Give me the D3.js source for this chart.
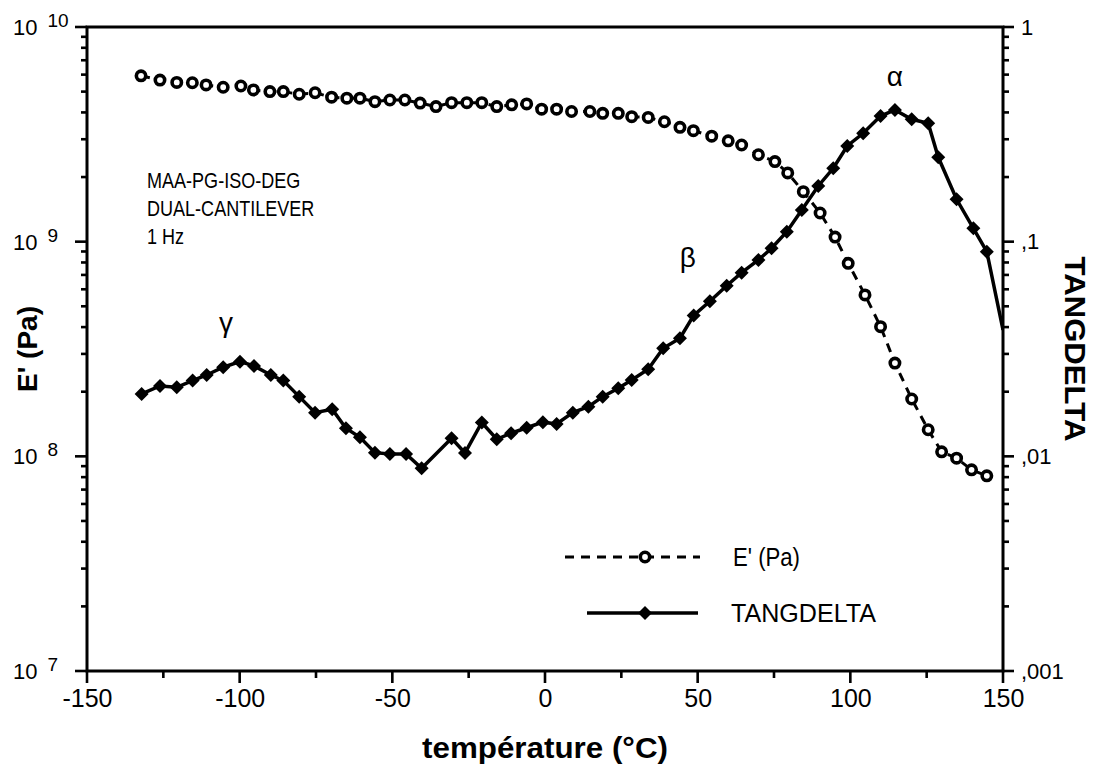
<!DOCTYPE html>
<html>
<head>
<meta charset="utf-8">
<script src="https://cdn.jsdelivr.net/npm/d3@7"></script>
<style>
  html, body { margin: 0; padding: 0; background: #fff; }
  svg { display: block; }
  text { font-family: "Liberation Sans", Arial, sans-serif; fill: #000; }
</style>
</head>
<body>
<svg id="chart" width="1096" height="767"></svg>
<script>
// ---- data ----
const eTemps = [-132.3,-126.1,-120.6,-115.5,-111.0,-105.4,-99.6,-95.5,-90.1,-85.7,-80.5,-75.3,-69.9,-64.9,-60.6,-55.7,-50.8,-45.9,-40.9,-35.7,-30.6,-25.6,-20.7,-15.8,-10.9,-6.0,-1.1,3.8,8.7,14.7,18.9,24.0,28.4,33.8,39.1,44.2,48.6,54.6,60.0,64.4,69.9,75.3,79.5,84.6,90.1,95.0,99.3,104.8,109.9,114.6,120.1,125.5,129.9,134.8,139.7,144.7];
const eModulus = [5.92e9,5.66e9,5.52e9,5.50e9,5.37e9,5.24e9,5.31e9,5.09e9,5.00e9,5.00e9,4.86e9,4.94e9,4.71e9,4.66e9,4.66e9,4.49e9,4.57e9,4.57e9,4.42e9,4.26e9,4.44e9,4.44e9,4.44e9,4.26e9,4.34e9,4.38e9,4.14e9,4.14e9,4.04e9,4.04e9,3.96e9,3.96e9,3.82e9,3.79e9,3.62e9,3.41e9,3.29e9,3.10e9,2.95e9,2.82e9,2.54e9,2.36e9,2.09e9,1.71e9,1.36e9,1.05e9,7.93e8,5.65e8,4.02e8,2.72e8,1.85e8,1.33e8,1.05e8,9.8e7,8.65e7,8.11e7];

const tanTemps = [-132.1,-126.1,-120.6,-115.4,-110.8,-105.4,-99.9,-95.3,-89.8,-85.7,-80.5,-75.3,-69.7,-65.2,-60.6,-55.7,-50.8,-45.5,-40.4,-30.6,-26.2,-20.7,-15.8,-11.1,-6.0,-0.7,3.8,9.1,14.2,18.9,24.0,28.4,33.8,38.7,44.2,48.7,54.0,59.5,64.4,69.9,74.2,79.2,84.1,89.5,94.4,99.0,104.2,109.9,114.6,120.1,125.5,128.8,134.8,140.3,144.7,150.0];
const tanDelta = [0.01953,0.02127,0.02098,0.02253,0.02393,0.0260,0.02761,0.02637,0.02393,0.02253,0.01897,0.01598,0.01657,0.01351,0.01227,0.0104,0.01026,0.01026,0.0088,0.01214,0.01037,0.01438,0.01201,0.01281,0.01359,0.01443,0.01415,0.01598,0.01704,0.01897,0.02076,0.0227,0.02544,0.03188,0.03549,0.04533,0.05277,0.06232,0.07171,0.08219,0.09318,0.1113,0.1405,0.1817,0.2197,0.2791,0.3198,0.3849,0.4106,0.3716,0.3559,0.2472,0.1576,0.1154,0.0898,0.0388];

const xTicks = [-150,-100,-50,0,50,100,150];
const xMinorTicks = [-125,-75,-25,25,75,125];
const leftTicks = [1e7,1e8,1e9,1e10];
const leftTickExp = ["7","8","9","10"];
const rightTicks = [0.001,0.01,0.1,1];
const rightTickLabels = [",001",",01",",1","1"];

const annotation = ["MAA-PG-ISO-DEG","DUAL-CANTILEVER","1 Hz"];
const peakNames = ["γ","β","α"];
const peakTemps = [-104.5,46.8,114.6];
const peakTan = [0.038,0.0762,0.531];
const seriesNames = ["E' (Pa)", "TANGDELTA"];
const xTitle = "température (°C)";
const yLeftTitle = "E' (Pa)";
const yRightTitle = "TANGDELTA";

// ---- layout ----
const svg = d3.select("#chart");
const L = 87, R = 1003, T = 27, B = 671;

const x = d3.scaleLinear().domain([-150,150]).range([L,R]);
const yL = d3.scaleLog().domain([1e7,1e10]).range([B,T]);
const yR = d3.scaleLog().domain([0.001,1]).range([B,T]);

function minorLog(lo, hi) {
  const out = [];
  for (let d = lo; d < hi; d *= 10) for (let k = 2; k <= 9; k++) out.push(d*k);
  return out;
}

// axis labels through d3 axes
function clean(g) { g.select(".domain").remove(); g.selectAll(".tick line").remove(); }
const gx = svg.append("g").attr("transform",`translate(0,${B})`)
  .call(d3.axisBottom(x).tickValues(xTicks).tickSize(12).tickPadding(6).tickFormat(d=>d));
clean(gx);
gx.selectAll("text").attr("font-size",25).attr("fill","#000");

const gr = svg.append("g").attr("transform",`translate(${R},0)`)
  .call(d3.axisRight(yR).tickValues(rightTicks).tickSize(11).tickPadding(7).tickFormat((d,i)=>rightTickLabels[i]));
clean(gr);
gr.selectAll("text").attr("font-size",22).attr("fill","#000");

leftTicks.forEach((v,i)=>{
  const t = svg.append("text").attr("x",13).attr("y",yL(v)+8).attr("font-size",22);
  t.append("tspan").text("10");
  t.append("tspan").attr("dx",10).attr("dy",-8).attr("font-size",19).text(leftTickExp[i]);
});

// frame
svg.append("rect").attr("x",L).attr("y",T).attr("width",R-L).attr("height",B-T)
  .attr("fill","none").attr("stroke","#000").attr("stroke-width",3);

// clip
svg.append("clipPath").attr("id","plotclip").append("rect")
  .attr("x",L).attr("y",T).attr("width",R-L).attr("height",B-T);

const ePts = eTemps.map((t,i)=>({t, v:eModulus[i]}));
const tPts = tanTemps.map((t,i)=>({t, v:tanDelta[i]}));

const plot = svg.append("g").attr("clip-path","url(#plotclip)");

plot.append("path").datum(ePts)
  .attr("d", d3.line().x(d=>x(d.t)).y(d=>yL(d.v)))
  .attr("fill","none").attr("stroke","#000").attr("stroke-width",3).attr("stroke-dasharray","9,7");
plot.append("path").datum(tPts)
  .attr("d", d3.line().x(d=>x(d.t)).y(d=>yR(d.v)))
  .attr("fill","none").attr("stroke","#000").attr("stroke-width",3.5);

const diamond = s => `M0,${-s}L${s},0L0,${s}L${-s},0Z`;

plot.selectAll(".dm").data(tPts.filter(d=>d.t<150)).join("path")
  .attr("transform",d=>`translate(${x(d.t)},${yR(d.v)})`)
  .attr("d",diamond(7)).attr("fill","#000");
plot.selectAll(".cm").data(ePts).join("circle")
  .attr("cx",d=>x(d.t)).attr("cy",d=>yL(d.v)).attr("r",4.7)
  .attr("fill","#fff").attr("stroke","#000").attr("stroke-width",3.6);

// annotation (condensed)
const ann = svg.append("g").attr("transform","translate(147,0) scale(0.82,1)");
annotation.forEach((s,i)=>{
  ann.append("text").attr("x",0).attr("y",188+i*28).attr("font-size",22).text(s);
});
peakNames.forEach((n,i)=>{
  svg.append("text").attr("x",x(peakTemps[i])).attr("y",yR(peakTan[i])).attr("text-anchor","middle")
    .attr("font-family","'Liberation Serif','DejaVu Serif',serif").attr("font-size",28).text(n);
});

// legend
const lg = svg.append("g");
lg.append("line").attr("x1",565).attr("x2",700).attr("y1",557).attr("y2",557)
  .attr("stroke","#000").attr("stroke-width",3).attr("stroke-dasharray","9,7");
lg.append("circle").attr("cx",645).attr("cy",557).attr("r",4.7).attr("fill","#fff").attr("stroke","#000").attr("stroke-width",3.6);
lg.append("text").attr("x",733).attr("y",557).attr("dy","0.36em").attr("font-size",25).attr("textLength",67).attr("lengthAdjust","spacingAndGlyphs").text(seriesNames[0]);
lg.append("line").attr("x1",587).attr("x2",698).attr("y1",613).attr("y2",613)
  .attr("stroke","#000").attr("stroke-width",3.5);
lg.append("path").attr("transform","translate(645,613)").attr("d",diamond(7)).attr("fill","#000");
lg.append("text").attr("x",731).attr("y",613).attr("dy","0.36em").attr("font-size",25).attr("textLength",145).attr("lengthAdjust","spacingAndGlyphs").text(seriesNames[1]);

// axis titles
svg.append("text").attr("x",(L+R)/2).attr("y",758).attr("text-anchor","middle")
  .attr("font-weight","bold").attr("font-size",29).attr("textLength",246).attr("lengthAdjust","spacingAndGlyphs").text(xTitle);
svg.append("text").attr("transform",`translate(37,${(T+B)/2}) rotate(-90)`).attr("text-anchor","middle")
  .attr("font-weight","bold").attr("font-size",28).text(yLeftTitle);
svg.append("text").attr("transform",`translate(1065,${(T+B)/2}) rotate(90)`).attr("text-anchor","middle")
  .attr("font-weight","bold").attr("font-size",30).attr("textLength",185).attr("lengthAdjust","spacingAndGlyphs").text(yRightTitle);

// tick marks as small filled rectangles, positions from the scales (drawn last)
const tw = 2.6;
const tickG = svg.append("g").attr("fill","#000");
function hTicks(vals, len) {
  tickG.append("g").selectAll("rect").data(vals).join("rect")
    .attr("x", d => x(d) - tw/2).attr("y", B).attr("width", tw).attr("height", len);
}
function vTicks(vals, scale, x0, len) {
  tickG.append("g").selectAll("rect").data(vals).join("rect")
    .attr("x", len < 0 ? x0 + len : x0).attr("y", d => scale(d) - tw/2)
    .attr("width", Math.abs(len)).attr("height", tw);
}
hTicks(xMinorTicks, 7);
hTicks(xTicks, 12);
vTicks(minorLog(1e7,1e10), yL, L, -6);
vTicks(leftTicks, yL, L, -12);
vTicks(minorLog(0.001,1), yR, R, 6);
vTicks(rightTicks, yR, R, 11);
</script>
</body>
</html>
